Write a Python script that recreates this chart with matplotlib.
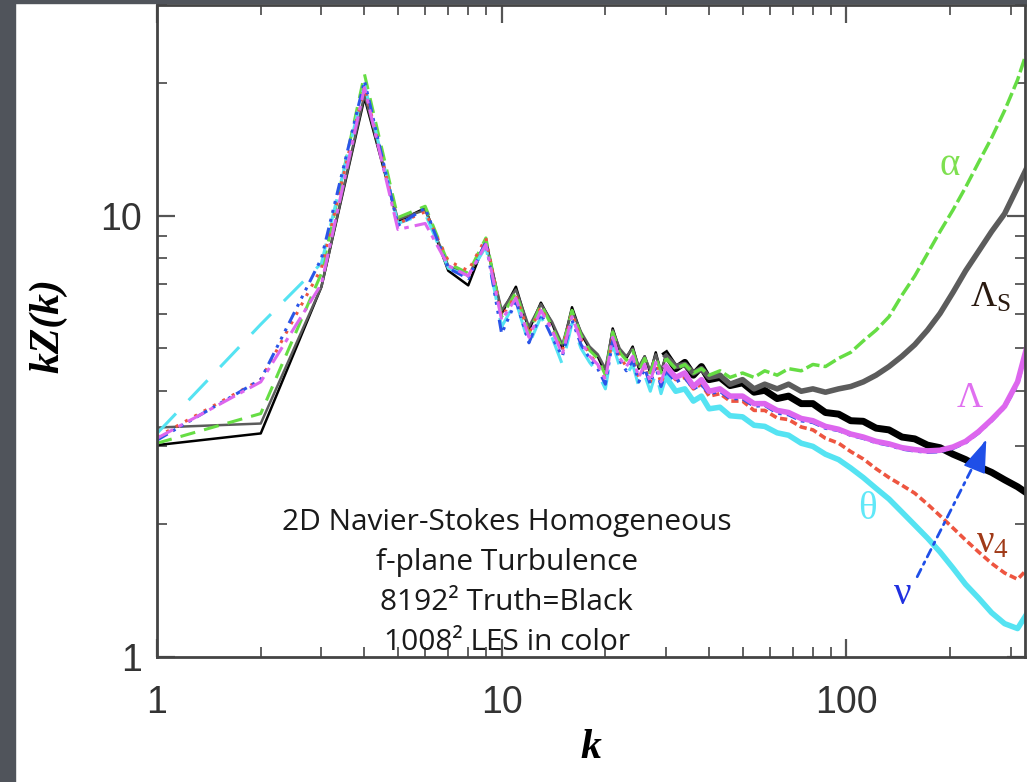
import numpy as np
import matplotlib
matplotlib.use('Agg')
import matplotlib.pyplot as plt
from matplotlib.patches import Rectangle
from matplotlib.ticker import LogLocator, NullFormatter

plt.rcParams['mathtext.fontset'] = 'custom'
plt.rcParams['mathtext.rm'] = 'Liberation Serif'
plt.rcParams['mathtext.it'] = 'Liberation Serif:italic'

# wavenumbers
ks = list(range(1, 31)) + [32, 34, 36, 38, 40, 43, 46, 50, 54, 58, 63, 68, 74, 80, 87,
                           95, 103, 112, 122, 133, 145, 158, 172, 187, 204, 222, 242,
                           264, 288, 314, 340]

# 8192^2 truth (black)
truth = [3.02, 3.21, 6.9, 18.5, 9.7, 10.4, 7.5, 6.95, 8.8, 6.0,
         6.9, 5.5, 6.35, 5.7, 5.0, 6.2, 5.4, 5.0, 4.8, 4.4,
         5.55, 4.95, 4.75, 5.05, 4.5, 4.8, 4.4, 4.9, 4.4, 4.85,
         4.5, 4.65, 4.35, 4.55, 4.25, 4.3, 4.12, 4.18, 3.98, 4.02,
         3.85, 3.9, 3.75, 3.75, 3.58, 3.55, 3.43, 3.42, 3.3, 3.27,
         3.15, 3.12, 3.02, 2.98, 2.88, 2.8, 2.7, 2.62, 2.52, 2.43, 2.33]

# LES runs
lam_s = [3.31, 3.38, 6.9, 18.8, 9.8, 10.3, 7.7, 7.3, 8.7, 6.1,
         6.8, 5.6, 6.3, 5.75, 5.1, 6.1, 5.45, 5.05, 4.85, 4.5,
         5.5, 5.0, 4.8, 5.0, 4.55, 4.8, 4.45, 4.85, 4.45, 4.8,
         4.55, 4.6, 4.4, 4.5, 4.3, 4.35, 4.15, 4.25, 4.05, 4.15,
         4.05, 4.15, 4.0, 4.05, 3.98, 4.05, 4.1, 4.2, 4.35, 4.55,
         4.8, 5.1, 5.5, 6.0, 6.7, 7.5, 8.3, 9.2, 10.1, 11.6, 13.2]

alpha = [3.05, 3.56, 7.4, 20.9, 9.9, 10.5, 7.8, 7.4, 8.9, 5.9,
         6.7, 5.4, 6.3, 5.6, 5.0, 6.1, 5.35, 4.95, 4.75, 4.35,
         5.45, 4.9, 4.7, 4.95, 4.45, 4.75, 4.4, 4.8, 4.4, 4.75,
         4.5, 4.6, 4.4, 4.5, 4.35, 4.45, 4.3, 4.4, 4.3, 4.45,
         4.35, 4.5, 4.45, 4.6, 4.55, 4.75, 4.9, 5.2, 5.5, 5.9,
         6.6, 7.3, 8.2, 9.2, 10.3, 11.6, 13.2, 15.0, 17.3, 20.3, 24.5]

lam = [3.13, 4.2, 7.0, 19.5, 9.3, 9.6, 7.7, 7.3, 8.6, 5.8,
       6.5, 5.3, 6.1, 5.5, 4.85, 5.9, 5.2, 4.8, 4.6, 4.25,
       5.3, 4.75, 4.55, 4.8, 4.3, 4.6, 4.2, 4.65, 4.2, 4.55,
       4.3, 4.4, 4.1, 4.25, 4.0, 4.05, 3.9, 3.9, 3.75, 3.75,
       3.62, 3.58, 3.47, 3.43, 3.33, 3.28, 3.2, 3.15, 3.08, 3.04,
       2.98, 2.95, 2.93, 2.94, 2.99, 3.08, 3.24, 3.45, 3.7, 4.2, 5.3]

nu = [3.1, 4.25, 8.0, 20.2, 9.5, 10.4, 7.6, 7.2, 8.7, 5.4,
      6.4, 5.15, 6.0, 5.3, 4.8, 5.8, 5.1, 4.75, 4.5, 4.15,
      5.2, 4.7, 4.45, 4.7, 4.2, 4.5, 4.15, 4.55, 4.1, 4.45,
      4.2, 4.3, 4.05, 4.15, 3.95, 4.0, 3.85, 3.85, 3.7, 3.72,
      3.57, 3.54, 3.43, 3.4, 3.3, 3.26, 3.18, 3.13, 3.06, 3.02,
      2.96, 2.93, 2.91, 2.92, 2.97, 3.06, 3.22, 3.43, 3.68, 4.15, 5.25]

nu4 = [3.15, 4.25, 7.6, 19.6, 9.6, 10.2, 7.9, 7.5, 8.9, 5.9,
       6.6, 5.4, 6.2, 5.5, 4.95, 6.0, 5.25, 4.85, 4.6, 4.25,
       5.3, 4.8, 4.55, 4.75, 4.3, 4.55, 4.2, 4.6, 4.15, 4.5,
       4.25, 4.3, 4.05, 4.15, 3.9, 3.95, 3.8, 3.8, 3.62, 3.62,
       3.48, 3.45, 3.32, 3.27, 3.13, 3.05, 2.92, 2.81, 2.67, 2.55,
       2.45, 2.35, 2.22, 2.09, 1.96, 1.84, 1.73, 1.63, 1.55, 1.5, 1.6]

theta = [3.21, 5.67, 7.8, 19.8, 9.6, 10.1, 7.6, 7.3, 8.5, 5.6,
         6.4, 5.1, 5.9, 5.3, 4.6, 5.7, 5.0, 4.65, 4.4, 4.05,
         5.1, 4.55, 4.35, 4.6, 4.1, 4.35, 4.0, 4.4, 3.95, 4.3,
         4.0, 4.05, 3.8, 3.9, 3.65, 3.68, 3.52, 3.5, 3.35, 3.33,
         3.22, 3.18, 3.05, 3.0, 2.88, 2.8, 2.68, 2.55, 2.41, 2.28,
         2.13, 1.99, 1.86, 1.73, 1.59, 1.46, 1.36, 1.26, 1.19, 1.16, 1.28]

ks = np.array(ks)
cut = 29  # index of k=30, where the curves turn into noisy bands

fig = plt.figure(figsize=(10.27, 7.82), dpi=100)
fig.patches.append(Rectangle((0, 0), 15 / 1027, 1, transform=fig.transFigure,
                             color='#50545b', zorder=0))
fig.patches.append(Rectangle((0, 1 - 3 / 782), 1, 3 / 782, transform=fig.transFigure,
                             color='#50545b', zorder=0))

ax = fig.add_axes([157 / 1027, 1 - 657 / 782, 868 / 1027, 652 / 782])

# (values, colour, low-k style, low-k width, high-k style, high-k width)
series = [
    (truth, 'black', '-', 1.8, '-', 5.0),
    (lam_s, '#5c5c5c', '-', 1.8, '-', 4.0),
    (alpha, '#66dd44', (0, (5, 3)), 2.2, (0, (4, 1.2)), 2.5),
    (theta, '#55e3f2', (0, (9, 6)), 2.2, '-', 4.0),
    (nu4, '#ee5540', (0, (1, 2.5)), 2.2, (0, (2, 1)), 2.6),
    (nu, '#2a55e8', (0, (4, 2, 1, 2, 1, 2, 1, 2)), 2.2, (0, (3, 1.5, 1, 1.5)), 2.5),
    (lam, '#dd66ee', (0, (6, 2, 1.5, 2)), 2.2, '-', 4.0),
]
for vals, col, ls1, lw1, ls2, lw2 in series:
    vals = np.array(vals)
    ax.plot(ks[:cut + 1], vals[:cut + 1], color=col, ls=ls1, lw=lw1)
    ax.plot(ks[cut:], vals[cut:], color=col, ls=ls2, lw=lw2)

ax.set_xscale('log')
ax.set_yscale('log')
ax.set_xlim(1, 330)
ax.set_ylim(1, 30)

ax.set_xticks([1, 10, 100], ['1', '10', '100'])
ax.set_yticks([1, 10], ['1', '10'])
for axis in (ax.xaxis, ax.yaxis):
    axis.set_minor_locator(LogLocator(base=10, subs=np.arange(2, 10)))
    axis.set_minor_formatter(NullFormatter())
ax.tick_params(which='both', direction='in', top=True, right=True, colors='#555555')
ax.tick_params(which='major', length=13, width=1.6, labelsize=27, labelcolor='#333333')
ax.tick_params(which='minor', length=7, width=1.3)
ax.tick_params(axis='x', which='major', pad=20)
ax.tick_params(axis='y', which='major', pad=11)
for lab in ax.get_xticklabels() + ax.get_yticklabels():
    lab.set_family('Liberation Sans')
for sp in ax.spines.values():
    sp.set_linewidth(2)
    sp.set_color('#444444')

ax.set_xlabel('k', fontsize=30, family='Liberation Serif', style='italic', weight='bold')
ax.xaxis.set_label_coords(0.5, -0.11)
ax.set_ylabel('kZ(k)', fontsize=30, family='Liberation Serif', style='italic', weight='bold')
ax.yaxis.set_label_coords(-0.103, 0.509)

# curve labels
lab_kw = dict(transform=ax.transAxes, ha='center', va='center', family='Liberation Serif')
ax.text(0.9136, 0.7546, 'α', color='#7ee050', fontsize=28, **lab_kw)
ax.text(0.9597, 0.5506, r'Λ$_\mathrm{S}$', color='#2a1a10', fontsize=26, **lab_kw)
ax.text(0.9367, 0.3972, 'Λ', color='#e070f0', fontsize=26, **lab_kw)
ax.text(0.8180, 0.2255, 'θ', color='#60e8f8', fontsize=28, **lab_kw)
ax.text(0.9631, 0.1748, r'ν$_\mathrm{4}$', color='#a03a18', fontsize=28, **lab_kw)
ax.text(0.8594, 0.0951, 'ν', color='#2030e0', fontsize=28, **lab_kw)

# dotted pointer from the nu label, with a solid head
arrow_tail = (160.6, 1.52)
arrow_head = (254.7, 3.10)
arrow_neck = (238.0, 2.72)
ax.annotate('', xy=arrow_head, xytext=arrow_tail,
            arrowprops=dict(arrowstyle='-', color='#1f4fe8', lw=2,
                            ls=(0, (3, 2, 1, 2)), shrinkA=0, shrinkB=0))
ax.annotate('', xy=arrow_head, xytext=arrow_neck,
            arrowprops=dict(arrowstyle='-|>,head_length=2.1,head_width=0.75',
                            color='#1f4fe8', lw=1, shrinkA=0, shrinkB=0))

# description block
info = ['2D Navier-Stokes Homogeneous', 'f-plane Turbulence',
        '8192² Truth=Black', '1008² LES in color']
for i, line in enumerate(info):
    ax.text(0.403, 0.207 - i * 0.0615, line, transform=ax.transAxes, ha='center',
            va='center', fontsize=21.5, color='#1a1a1a', family='Open Sans')

fig.savefig('out.png', dpi=100)
